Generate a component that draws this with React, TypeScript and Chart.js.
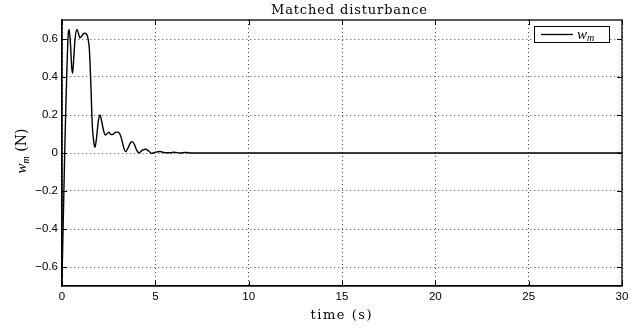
import React, { useEffect, useRef } from "react";
import { Chart, registerables } from "chart.js";

Chart.register(...registerables);

// ---- data ----
const timeS: number[] = [
  0, 0.08, 0.16, 0.25, 0.33, 0.38, 0.45, 0.52, 0.57, 0.63, 0.7, 0.8, 0.88, 0.96, 1.05, 1.2, 1.32, 1.4,
  1.47, 1.55, 1.62, 1.7, 1.77, 1.85, 1.95, 2.03, 2.12, 2.22, 2.33, 2.45, 2.52, 2.6, 2.7, 2.85, 2.98,
  3.1, 3.2, 3.3, 3.41, 3.55, 3.68, 3.77, 3.9, 4.0, 4.12, 4.3, 4.48, 4.65, 4.8, 5.0, 5.25, 5.5, 5.8,
  6.0, 6.3, 6.6, 7.0, 30,
];
const wmValues: number[] = [
  -0.66, -0.3, 0.07, 0.4, 0.62, 0.65, 0.58, 0.45, 0.42, 0.5, 0.6, 0.65, 0.63, 0.605, 0.615, 0.63, 0.625,
  0.6, 0.54, 0.35, 0.15, 0.06, 0.03, 0.08, 0.17, 0.2, 0.17, 0.12, 0.095, 0.105, 0.11, 0.098, 0.097,
  0.108, 0.11, 0.1, 0.07, 0.03, 0.007, 0.03, 0.055, 0.06, 0.04, 0.015, 0.0, 0.015, 0.02, 0.01, -0.002,
  0.004, 0.008, 0.002, 0.001, 0.004, 0.0, 0.003, 0.0, 0,
];
const xTickValues: number[] = [0, 5, 10, 15, 20, 25, 30];
const yTickValues: number[] = [-0.6, -0.4, -0.2, 0, 0.2, 0.4, 0.6];
const xRange: number[] = [0, 30];
const yRange: number[] = [-0.7, 0.7];
const chartTitle = "Matched disturbance";
const xAxisTitle = "time (s)";
const yTitleBase = "w";
const yTitleSub = "m";
const yTitleUnit = " (N)";
const legendBase = "w";
const legendSub = "m";

const SERIF = '"Liberation Serif", "DejaVu Serif", serif';
const DSERIF = '"DejaVu Serif", "Liberation Serif", serif';
const SANS = '"Liberation Sans", Arial, sans-serif';

const fmtTick = (v: number) => {
  const s = Math.abs(v) < 1e-9 ? "0" : Math.abs(v).toFixed(1);
  return v < -1e-9 ? "\u2212" + s : s;
};

function spacedText(ctx: any, text: string, cx: number, y: number, targetW: number) {
  ctx.letterSpacing = "0px";
  const rawW = ctx.measureText(text).width;
  const sp = Math.max(0, (targetW - rawW) / (text.length - 1));
  ctx.letterSpacing = `${sp}px`;
  ctx.textAlign = "left";
  ctx.fillText(text, cx - (rawW + sp * (text.length - 1)) / 2, y);
  ctx.letterSpacing = "0px";
}

const decorPlugin = {
  id: "decor",
  afterDatasetsDraw(chart: any) {
    const { ctx, chartArea: a, scales } = chart;
    const xs = scales.x;
    const ys = scales.y;
    ctx.save();
    ctx.strokeStyle = "#000";
    ctx.lineWidth = 1;
    ctx.setLineDash([]);
    const L = 5;
    ctx.beginPath();
    xTickValues.forEach((v) => {
      const px = Math.round(xs.getPixelForValue(v)) + 0.5;
      ctx.moveTo(px, a.bottom);
      ctx.lineTo(px, a.bottom - L);
      ctx.moveTo(px, a.top);
      ctx.lineTo(px, a.top + L);
    });
    yTickValues.forEach((v) => {
      const py = Math.round(ys.getPixelForValue(v)) + 0.5;
      ctx.moveTo(a.left, py);
      ctx.lineTo(a.left + L, py);
      ctx.moveTo(a.right, py);
      ctx.lineTo(a.right - L, py);
    });
    ctx.stroke();
    ctx.lineWidth = 1.3;
    ctx.strokeRect(a.left, a.top, a.right - a.left, a.bottom - a.top);
    ctx.restore();
  },
  afterDraw(chart: any) {
    const { ctx, chartArea: a } = chart;
    ctx.save();
    ctx.fillStyle = "#000";
    ctx.textBaseline = "alphabetic";

    // chart title
    ctx.font = `13px ${DSERIF}`;
    spacedText(ctx, chartTitle, 349, 14, 156);

    // x axis title
    ctx.font = `13px ${DSERIF}`;
    spacedText(ctx, xAxisTitle, 341, 319, 61);

    // y axis title (rotated)
    ctx.save();
    ctx.translate(22, 151);
    ctx.rotate(-Math.PI / 2);
    ctx.textBaseline = "alphabetic";
    ctx.textAlign = "left";
    const fBase = `italic 15px ${SERIF}`;
    const fSub = `italic 10px ${SERIF}`;
    const fUnit = `14px ${DSERIF}`;
    ctx.font = fBase;
    const w1 = ctx.measureText(yTitleBase).width;
    ctx.font = fSub;
    const w2 = ctx.measureText(yTitleSub).width;
    ctx.font = fUnit;
    const w3 = ctx.measureText(yTitleUnit).width;
    let x0 = -(w1 + w2 + w3) / 2;
    const base = 4;
    ctx.font = fBase;
    ctx.fillText(yTitleBase, x0, base);
    x0 += w1;
    ctx.font = fSub;
    ctx.fillText(yTitleSub, x0, base + 3);
    x0 += w2;
    ctx.font = fUnit;
    ctx.fillText(yTitleUnit, x0, base);
    ctx.restore();

    // legend
    const bx = 534.5, by = 26.5, bw = 75, bh = 16;
    ctx.fillStyle = "#fff";
    ctx.fillRect(bx, by, bw, bh);
    ctx.strokeStyle = "#000";
    ctx.lineWidth = 1;
    ctx.strokeRect(bx, by, bw, bh);
    ctx.lineWidth = 1.3;
    ctx.beginPath();
    ctx.moveTo(541, by + bh / 2);
    ctx.lineTo(573, by + bh / 2);
    ctx.stroke();
    ctx.fillStyle = "#000";
    ctx.font = `italic 15px ${SERIF}`;
    ctx.textAlign = "left";
    ctx.fillText(legendBase, 577, by + 12);
    const lw = ctx.measureText(legendBase).width;
    ctx.font = `italic 10px ${SERIF}`;
    ctx.fillText(legendSub, 577 + lw, by + 14);
    ctx.restore();
  },
};

export default function App() {
  const ref = useRef<HTMLCanvasElement | null>(null);
  useEffect(() => {
    if (!ref.current) return;
    const points = timeS.map((t, i) => ({ x: t, y: wmValues[i] }));
    const chart = new Chart(ref.current, {
      type: "line",
      data: {
        datasets: [
          {
            label: "w_m",
            data: points,
            borderColor: "#000",
            borderWidth: 1.4,
            pointRadius: 0,
            cubicInterpolationMode: "monotone",
            fill: false,
          },
        ],
      },
      options: {
        animation: false,
        responsive: false,
        maintainAspectRatio: false,
        layout: { padding: { left: 0, right: 17, top: 20, bottom: 0 } },
        plugins: {
          legend: { display: false },
          title: { display: false },
          tooltip: { enabled: false },
        },
        scales: {
          x: {
            type: "linear",
            min: xRange[0],
            max: xRange[1],
            afterBuildTicks: (s: any) => {
              s.ticks = xTickValues.map((v) => ({ value: v }));
            },
            afterFit: (s: any) => {
              s.height = 45;
            },
            ticks: {
              color: "#000",
              font: { family: SANS, size: 11.5 },
              padding: 4,
              maxRotation: 0,
              callback: (v: any) => String(v),
            },
            grid: { color: "#444", lineWidth: 1, drawTicks: false },
            border: { display: true, color: "#000", width: 1.3, dash: [1, 3] },
            title: { display: false },
          },
          y: {
            type: "linear",
            min: yRange[0],
            max: yRange[1],
            afterBuildTicks: (s: any) => {
              s.ticks = yTickValues.map((v) => ({ value: v }));
            },
            afterFit: (s: any) => {
              s.width = 62;
            },
            ticks: {
              color: "#000",
              font: { family: SANS, size: 11.5 },
              padding: 4,
              callback: (v: any) => fmtTick(Number(v)),
            },
            grid: { color: "#444", lineWidth: 1, drawTicks: false },
            border: { display: true, color: "#000", width: 1.3, dash: [1, 3] },
          },
        },
      },
      plugins: [decorPlugin],
    } as any);
    return () => chart.destroy();
  }, []);
  return (
    <div style={{ position: "fixed", left: 0, top: 0, width: 639, height: 331, background: "#fff" }}>
      <canvas ref={ref} width={639} height={331} style={{ display: "block", width: 639, height: 331 }} />
    </div>
  );
}
